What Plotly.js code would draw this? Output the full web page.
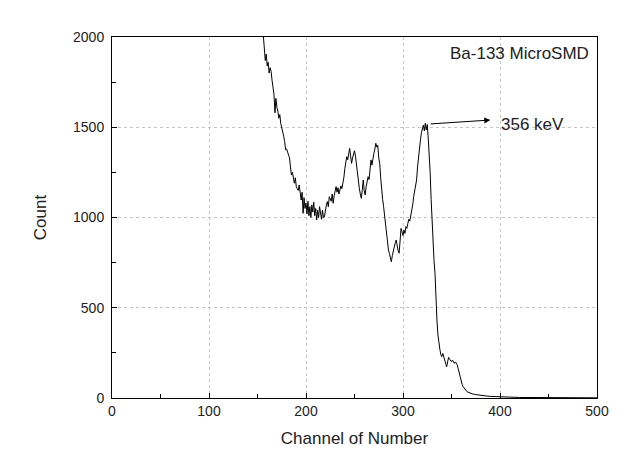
<!DOCTYPE html>
<html>
<head>
<meta charset="utf-8">
<script src="https://cdn.plot.ly/plotly-3.0.1.min.js"></script>
<style>html,body{margin:0;padding:0;background:#fff;}#chart{width:632px;height:462px;}</style>
</head>
<body>
<div id="chart"></div>
<script>
const channels = [
155,156,157,158,159,160,161,162,163,164,165,166,167,168,169,170,171,172,173,174,
175,176,177,178,179,180,181,182,183,184,185,186,187,188,189,190,191,192,193,194,
195,196,197,198,199,200,201,202,203,204,205,206,207,208,209,210,211,212,213,214,
215,216,217,218,219,220,221,222,223,224,225,226,227,228,229,230,231,232,233,234,
235,236,237,238,239,240,241,242,243,244,245,246,247,248,249,250,251,252,253,254,
255,256,257,258,259,260,261,262,263,264,265,266,267,268,269,270,271,272,273,274,
275,276,277,278,279,280,281,282,283,284,285,286,287,288,289,290,291,292,293,294,
295,296,297,298,299,300,301,302,303,304,305,306,307,308,309,310,311,312,313,314,
315,316,317,318,319,320,321,322,323,324,325,326,327,328,329,330,331,332,333,334,
335,336,337,338,339,340,341,342,343,344,345,346,347,348,349,350,351,352,353,354,
355,356,357,358,359,360,361,362,363,364,365,366,368,370,372,375,378,382,386,390,
395,400,410,420,430,440,450,460,470,480,490,500];
const counts = [
2080,2000,1950,1870,1905,1840,1860,1800,1830,1810,1760,1720,1680,1580,1660,1610,1590,1550,1570,1520,
1500,1485,1450,1420,1375,1380,1365,1356,1330,1280,1235,1250,1210,1190,1220,1170,1160,1150,1180,1120,
1097,1140,1023,1110,1050,1080,1020,1090,1010,1060,1000,1070,1030,1085,1010,1050,986,1040,1000,1060,
1010,990,1040,1000,1004,1050,1070,1088,1060,1115,1100,1090,1130,1079,1120,1150,1171,1140,1165,1130,
1152,1175,1160,1189,1220,1270,1300,1337,1320,1360,1383,1340,1300,1330,1356,1370,1340,1290,1230,1208,
1160,1130,1106,1150,1208,1150,1125,1170,1200,1226,1210,1270,1319,1290,1340,1356,1380,1411,1390,1400,
1330,1300,1220,1134,1100,1060,1004,960,912,870,820,800,780,755,790,820,838,860,875,840,
815,802,870,940,920,900,930,912,950,940,967,990,980,1010,1023,1070,1115,1150,1180,1208,
1280,1340,1392,1430,1470,1500,1512,1480,1522,1485,1515,1440,1350,1250,1100,960,850,760,690,520,
432,350,300,270,240,229,247,225,200,180,173,200,225,215,205,201,210,195,192,200,
188,183,160,135,118,95,75,63,55,45,38,35,30,24,22,19,16,13,11,9,
7,6,5,3,3,2,2,2,1,1,1,1];
const xTicks = [0,100,200,300,400,500];
const yTicks = [0,500,1000,1500,2000];
const sampleLabel = "Ba-133 MicroSMD";
const peakLabel = "356 keV";
const peakPoint = [327, 1518];
const peakArrowEnd = [390, 1540];
const peakLabelPos = [399, 1518];

const fontFam = '"Liberation Sans", Arial, sans-serif';
const data = [{
  x: channels, y: counts, type: 'scatter', mode: 'lines',
  line: {color: '#000', width: 1}, hoverinfo: 'skip'
}];
const axisCommon = {
  showline: true, linecolor: '#000', linewidth: 1, mirror: true,
  ticks: 'inside', ticklen: 5, tickcolor: '#000', zeroline: false,
  showgrid: true, gridcolor: '#c4c4c4', griddash: 'dot', gridwidth: 1,
  tickfont: {family: fontFam, size: 14, color: '#222'}
};
const layout = {
  width: 632, height: 462,
  margin: {l: 112, r: 35, t: 37, b: 64},
  paper_bgcolor: '#fff', plot_bgcolor: '#fff',
  showlegend: false,
  font: {family: fontFam, color: '#222'},
  xaxis: Object.assign({}, axisCommon, {
    range: [0, 500], tickvals: xTicks, ticktext: xTicks.map(String),
    minor: {dtick: 50, tick0: 0, ticks: 'inside', ticklen: 4, tickcolor: '#000', showgrid: false},
    title: {text: 'Channel of Number', font: {family: fontFam, size: 17, color: '#222'}, standoff: 14}
  }),
  yaxis: Object.assign({}, axisCommon, {
    range: [0, 2000], tickvals: yTicks, ticktext: yTicks.map(String),
    ticklabelstandoff: 4,
    minor: {dtick: 250, tick0: 0, ticks: 'inside', ticklen: 4, tickcolor: '#000', showgrid: false},
    title: {text: 'Count', font: {family: fontFam, size: 17, color: '#222'}, standoff: 22}
  }),
  annotations: [
    {x: 1, y: 1, xref: 'paper', yref: 'paper', xanchor: 'right', yanchor: 'top',
     xshift: -6, yshift: -5, text: sampleLabel, showarrow: false,
     font: {family: fontFam, size: 17, color: '#222'}},
    {x: peakArrowEnd[0], y: peakArrowEnd[1], ax: peakPoint[0], ay: peakPoint[1],
     xref: 'x', yref: 'y', axref: 'x', ayref: 'y', text: '', showarrow: true,
     arrowhead: 2, arrowsize: 1.2, arrowwidth: 1, arrowcolor: '#000'},
    {x: peakLabelPos[0], y: peakLabelPos[1], xref: 'x', yref: 'y',
     xanchor: 'left', yanchor: 'middle', text: peakLabel, showarrow: false,
     font: {family: fontFam, size: 17, color: '#222'}}
  ]
};
Plotly.newPlot('chart', data, layout, {staticPlot: true, displayModeBar: false});
</script>
</body>
</html>
